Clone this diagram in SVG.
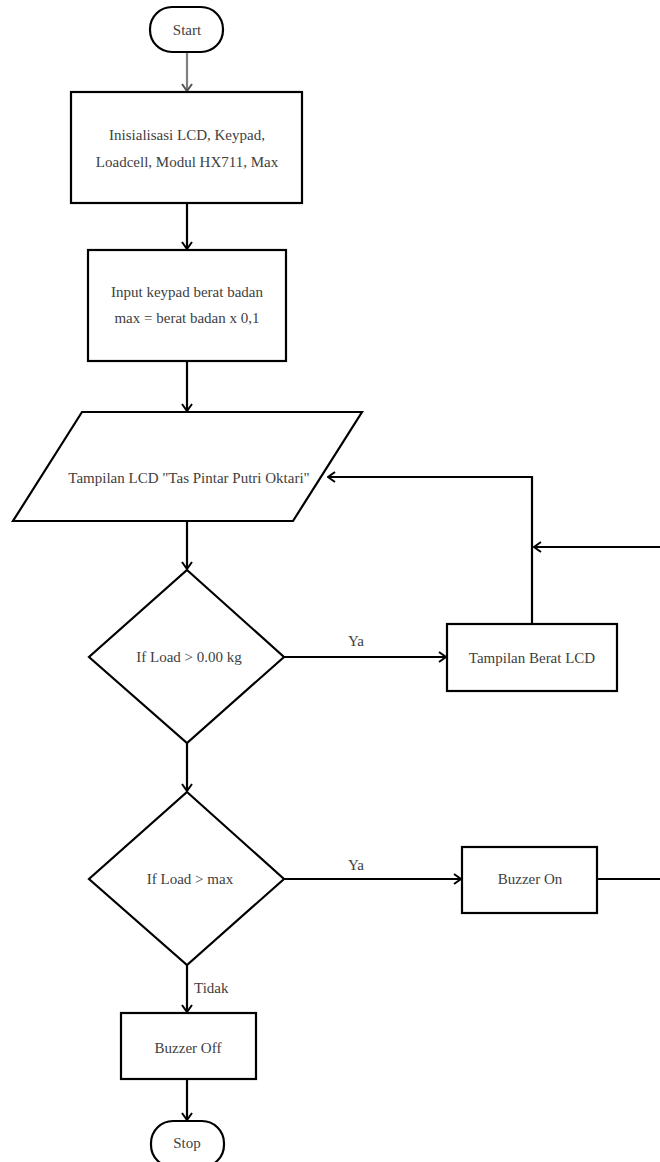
<svg xmlns="http://www.w3.org/2000/svg" width="660" height="1162" viewBox="0 0 660 1162">
<defs>
<style>
.s{fill:#fff;stroke:#000;stroke-width:2.2}
.t{font-family:"Liberation Serif","Times New Roman",serif;font-size:15px;fill:#404040;text-anchor:middle}
.c{fill:none;stroke:#000;stroke-width:2.2}
</style>
<marker id="a" viewBox="0 0 12 12" markerWidth="12" markerHeight="12" refX="11" refY="6" orient="auto" markerUnits="userSpaceOnUse">
<path d="M4,1 L11,6 L4,11" fill="none" stroke="#000" stroke-width="2"/>
</marker>
<marker id="g" viewBox="0 0 12 12" markerWidth="12" markerHeight="12" refX="11" refY="6" orient="auto" markerUnits="userSpaceOnUse">
<path d="M4,1 L11,6 L4,11" fill="none" stroke="#555" stroke-width="2"/>
</marker>
</defs>
<g id="connectors">
<path class="c" d="M187,52 V91" style="stroke:#808080" marker-end="url(#g)"/>
<path class="c" d="M187,203 V249" marker-end="url(#a)"/>
<path class="c" d="M187,361 V411" marker-end="url(#a)"/>
<path class="c" d="M187,521 V569" marker-end="url(#a)"/>
<path class="c" d="M284,657 H446" marker-end="url(#a)"/>
<path class="c" d="M532,624 V477 H328" marker-end="url(#a)"/>
<path class="c" d="M660,547 H534" marker-end="url(#a)"/>
<path class="c" d="M187,743 V791" marker-end="url(#a)"/>
<path class="c" d="M284,879 H461" marker-end="url(#a)"/>
<path class="c" d="M597,879 H660"/>
<path class="c" d="M187,965 V1012" marker-end="url(#a)"/>
<path class="c" d="M187,1079 V1120" marker-end="url(#a)"/>
<text class="t" x="356" y="646">Ya</text>
<text class="t" x="356" y="870">Ya</text>
<text class="t" x="194" y="993" style="text-anchor:start">Tidak</text>
</g>
<g id="start">
<rect class="s" x="150" y="7" width="73" height="45" rx="22"/>
<text class="t" x="187" y="35">Start</text>
</g>
<g id="init">
<rect class="s" x="71" y="92" width="231" height="111"/>
<text class="t" x="187" y="140">Inisialisasi LCD, Keypad,</text>
<text class="t" x="187" y="167">Loadcell, Modul HX711, Max</text>
</g>
<g id="input">
<rect class="s" x="88" y="250" width="198" height="111"/>
<text class="t" x="187" y="297">Input keypad berat badan</text>
<text class="t" x="187" y="323">max = berat badan x 0,1</text>
</g>
<g id="display">
<polygon class="s" points="82,412 362,412 293,521 13,521"/>
<text class="t" x="189" y="483">Tampilan LCD "Tas Pintar Putri Oktari"</text>
</g>
<g id="cond1">
<polygon class="s" points="187,570 284,657 187,743 89,657"/>
<text class="t" x="189" y="662">If Load &gt; 0.00 kg</text>
</g>
<g id="weight">
<rect class="s" x="447" y="624" width="170" height="67"/>
<text class="t" x="532" y="663">Tampilan Berat LCD</text>
</g>
<g id="cond2">
<polygon class="s" points="187,792 284,879 187,965 89,879"/>
<text class="t" x="190" y="884">If Load &gt; max</text>
</g>
<g id="buzzon">
<rect class="s" x="462" y="847" width="135" height="66"/>
<text class="t" x="530" y="884">Buzzer On</text>
</g>
<g id="buzzoff">
<rect class="s" x="121" y="1013" width="135" height="66"/>
<text class="t" x="188" y="1053">Buzzer Off</text>
</g>
<g id="stop">
<rect class="s" x="151" y="1121" width="73" height="46" rx="22"/>
<text class="t" x="187" y="1148">Stop</text>
</g>
</svg>
